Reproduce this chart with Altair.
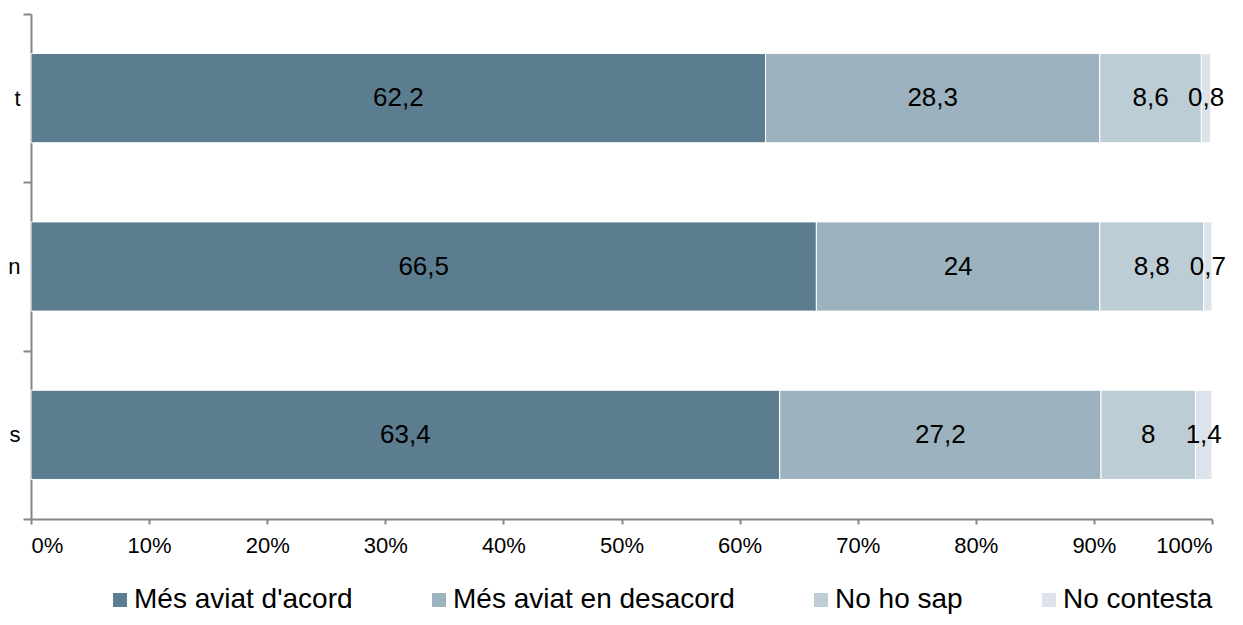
import altair as alt
import pandas as pd

categories = ["t", "n", "s"]
responses = ["Més aviat d'acord", "Més aviat en desacord", "No ho sap", "No contesta"]
acord = [62.2, 66.5, 63.4]
desacord = [28.3, 24.0, 27.2]
no_sap = [8.6, 8.8, 8.0]
no_contesta = [0.8, 0.7, 1.4]
colors = ["#5B7D8F", "#9CB2BE", "#BDCDD5", "#DCE3EA"]
x_ticks = [0, 10, 20, 30, 40, 50, 60, 70, 80, 90, 100]

FONT = "Liberation Sans"

rows = []
series = [acord, desacord, no_sap, no_contesta]
for i, c in enumerate(categories):
    for j, r in enumerate(responses):
        v = series[j][i]
        rows.append({"cat": c, "resp": r, "order": j, "value": v,
                     "label": f"{v:g}".replace(".", ",")})
df = pd.DataFrame(rows)

base = alt.Chart(df).transform_stack(
    stack="value", as_=["x0", "x1"], groupby=["cat"],
    sort=[alt.SortField("order", order="ascending")]
).transform_calculate(mid="(datum.x0 + datum.x1) / 2")

yenc = alt.Y("cat:N", sort=categories,
             scale=alt.Scale(paddingInner=0, paddingOuter=0),
             axis=alt.Axis(title=None, domainColor="#868686", domainWidth=2,
                           tickBand="extent", tickColor="#868686", tickWidth=2,
                           tickSize=8, labelFontSize=22, labelFont=FONT,
                           labelColor="black", labelPadding=3, grid=False))

bars = base.mark_bar(stroke="white", strokeWidth=1,
                     height=alt.RelativeBandSize(band=0.53)).encode(
    x=alt.X("x0:Q", scale=alt.Scale(domain=[0, 100], nice=False, zero=True),
            axis=alt.Axis(title=None, values=x_ticks, labelExpr="datum.value + '%'",
                          domainColor="#868686", domainWidth=2, tickColor="#868686",
                          tickWidth=2, tickSize=5, labelFontSize=22, labelFont=FONT,
                          labelColor="black", labelPadding=11, grid=False)),
    x2="x1:Q",
    y=yenc,
    color=alt.Color("resp:N", sort=responses,
                    scale=alt.Scale(domain=responses, range=colors),
                    legend=alt.Legend(title=None, orient="none", legendX=75, legendY=572,
                                      direction="horizontal", columns=4,
                                      symbolType="square", symbolSize=196,
                                      symbolStrokeWidth=0, labelFontSize=28,
                                      labelFont=FONT, labelColor="black",
                                      labelLimit=500, columnPadding=72, labelOffset=0)),
    order=alt.Order("order:Q"),
)

texts = base.mark_text(fontSize=26, font=FONT, color="black").encode(
    x=alt.X("mid:Q"),
    y=alt.Y("cat:N", sort=categories),
    text="label:N",
)

chart = (bars + texts).properties(
    width=1181, height=505,
    autosize=alt.AutoSizeParams(type="none"),
    padding={"left": 23, "top": 6, "right": 23, "bottom": 98},
).configure_view(stroke=None)

chart.save("out.html", embed_options={"renderer": "svg", "actions": False})
